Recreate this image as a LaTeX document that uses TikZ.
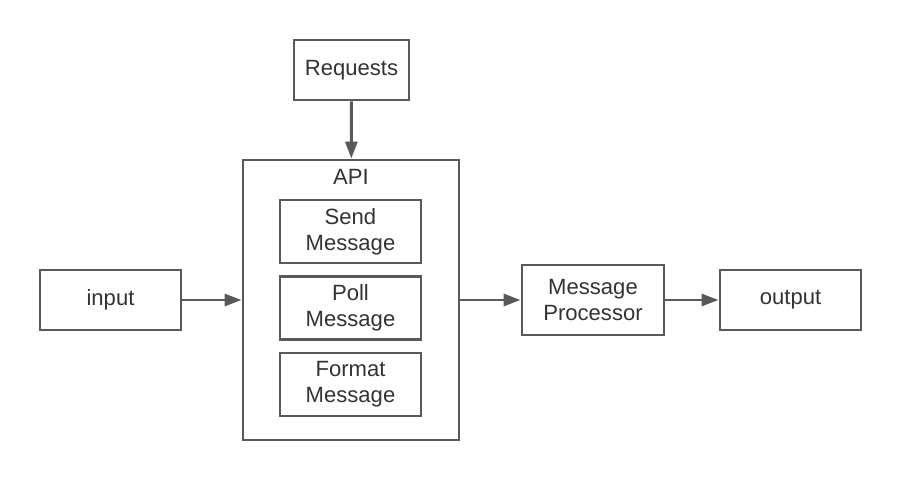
\documentclass[tikz,border=0pt]{standalone}
\usepackage{fontspec}
\setmainfont{Liberation Sans}
\usepackage{xcolor}
\usepackage{tikz}
\usetikzlibrary{arrows.meta,positioning}
\definecolor{linegray}{RGB}{89,89,89}
\definecolor{textgray}{RGB}{51,51,51}

\begin{document}
\begin{tikzpicture}[>={Triangle[length=12pt,width=8.5pt]},
    box/.style={draw=linegray,line width=2.1pt,fill=white,inner sep=0pt,align=center,
      minimum width=3.525cm,minimum height=1.5cm,text=textgray,
      font=\fontsize{15.7}{18.6}\selectfont},
    link/.style={draw=linegray,line width=2.1pt,->}]
    \useasboundingbox (0,0) rectangle (22.5,12);
    % outer API box
    \node[box,minimum width=5.4cm,minimum height=7cm] (api) at (8.775,4.5) {};
    \node[text=textgray,font=\fontsize{15.7}{18.6}\selectfont,inner sep=0pt] (apilabel) at (8.775,7.575) {API};
    \node[box,minimum height=1.575cm] (send) at (8.7625,6.2125) {Send\\Message};
    \node[box,minimum height=1.575cm] (poll) at (8.7625,4.3) {Poll\\Message};
    \node[box,minimum height=1.575cm] (format) at (8.7625,2.3875) {Format\\Message};
    % outside boxes
    \node[box,minimum width=2.875cm] (requests) at (8.7875,10.25) {Requests};
    \node[box] (input) at (2.7625,4.5) {input};
    \node[box,minimum width=3.55cm,minimum height=1.75cm] (proc) at (14.825,4.5) {Message\\Processor};
    \node[box] (output) at (19.7625,4.5) {output};
    \draw[link] (requests) -- (api);
    \draw[link] (input) -- (api);
    \draw[link] (api) -- (proc);
    \draw[link] (proc) -- (output);
\end{tikzpicture}
\end{document}
